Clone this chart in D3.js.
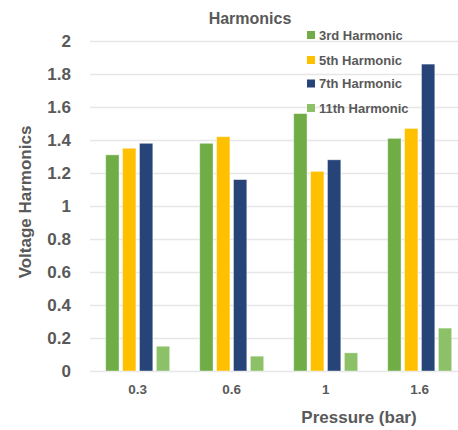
<!DOCTYPE html>
<html>
<head>
<meta charset="utf-8">
<script src="https://cdn.jsdelivr.net/npm/d3@7"></script>
<style>
  body { margin: 0; background: #fff; }
  text { font-family: "Liberation Sans", Arial, sans-serif; font-weight: bold; fill: #595959; }
</style>
</head>
<body>
<div id="chart"></div>
<script>
const pressures = ['0.3', '0.6', '1', '1.6']
const seriesNames = ['3rd Harmonic', '5th Harmonic', '7th Harmonic', '11th Harmonic']
const colors = ['#70ad47', '#ffc000', '#264478', '#8cc168']
const third = [1.31, 1.38, 1.56, 1.41]
const fifth = [1.35, 1.42, 1.21, 1.47]
const seventh = [1.38, 1.16, 1.28, 1.86]
const eleventh = [0.15, 0.09, 0.11, 0.26]
const yTicks = [0, 0.2, 0.4, 0.6, 0.8, 1, 1.2, 1.4, 1.6, 1.8, 2]

const seriesValues = [third, fifth, seventh, eleventh]

const width = 458, height = 430
const svg = d3.select('#chart').append('svg')
  .attr('width', width)
  .attr('height', height)

const x = d3.scaleBand().domain(pressures).range([90.7, 466.7]).padding(0)
const xInner = d3.scaleBand().domain(seriesNames)
  .range([15, x.bandwidth() - 15]).paddingInner(0.21)
const y = d3.scaleLinear().domain([0, 2]).range([371, 41])

// gridlines
svg.append('g')
  .selectAll('line')
  .data(yTicks)
  .join('line')
  .attr('x1', 90)
  .attr('x2', width)
  .attr('y1', d => Math.round(y(d)) + 0.5)
  .attr('y2', d => Math.round(y(d)) + 0.5)
  .attr('stroke', '#e6e6e6')
  .attr('stroke-width', 1.5)

// y axis labels
const yAxis = d3.axisLeft(y).tickValues(yTicks).tickSize(0).tickPadding(0)
  .tickFormat(d3.format('~g'))
svg.append('g')
  .attr('transform', 'translate(71,0)')
  .call(yAxis)
  .call(g => g.select('.domain').remove())
  .selectAll('text')
  .style('font-size', '17px')
  .attr('fill', '#595959')

// x axis labels
const xAxis = d3.axisBottom(x).tickSize(0).tickPadding(0)
svg.append('g')
  .attr('transform', 'translate(0,384)')
  .call(xAxis)
  .call(g => g.select('.domain').remove())
  .selectAll('text')
  .style('font-size', '13.5px')
  .attr('fill', '#595959')

// bars
const groups = svg.append('g')
  .selectAll('g')
  .data(pressures)
  .join('g')
  .attr('transform', d => 'translate(' + x(d) + ',0)')

groups.selectAll('rect')
  .data((p, i) => seriesNames.map((s, j) => ({ s: s, v: seriesValues[j][i], c: colors[j] })))
  .join('rect')
  .attr('x', d => xInner(d.s))
  .attr('width', xInner.bandwidth())
  .attr('y', d => y(d.v))
  .attr('height', d => y(0) - y(d.v))
  .attr('fill', d => d.c)
  .attr('stroke', 'rgba(255,255,255,0.5)')
  .attr('stroke-width', 0.8)

// title
svg.append('text')
  .attr('x', 250)
  .attr('y', 24)
  .attr('text-anchor', 'middle')
  .style('font-size', '16px')
  .text('Harmonics')

// legend
const legend = svg.append('g')
  .attr('transform', 'translate(307,0)')
const legendY = [35, 60, 83.5, 108]
seriesNames.forEach((s, i) => {
  legend.append('rect')
    .attr('x', 0)
    .attr('y', legendY[i] - 4)
    .attr('width', 8)
    .attr('height', 8)
    .attr('fill', colors[i])
  legend.append('text')
    .attr('x', 12)
    .attr('y', legendY[i])
    .attr('dy', '0.35em')
    .style('font-size', '13px')
    .text(s)
})

// axis titles
svg.append('text')
  .attr('transform', 'translate(31,202) rotate(-90)')
  .attr('text-anchor', 'middle')
  .style('font-size', '17px')
  .text('Voltage Harmonics')

svg.append('text')
  .attr('x', 359)
  .attr('y', 423)
  .attr('text-anchor', 'middle')
  .style('font-size', '17px')
  .text('Pressure (bar)')
</script>
</body>
</html>
